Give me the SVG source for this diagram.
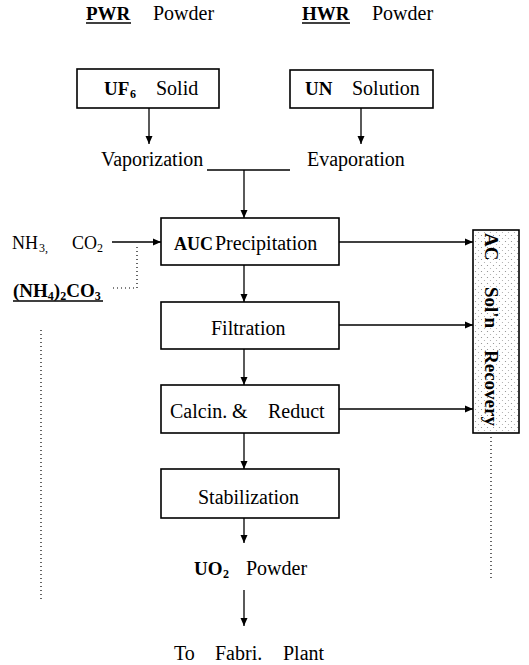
<svg xmlns="http://www.w3.org/2000/svg" width="529" height="665" viewBox="0 0 529 665">
<style>
text{fill:#000}
.box{fill:#fff;stroke:#000;stroke-width:1.6}
.ln{fill:none;stroke:#000;stroke-width:1.3}
.dot{fill:none;stroke:#000;stroke-width:1.2;stroke-dasharray:1 3}
.ul{stroke:#000;stroke-width:1.3}
</style>
<defs>
<marker id="ah" viewBox="0 0 8 8" refX="8" refY="4" markerWidth="8" markerHeight="8" markerUnits="userSpaceOnUse" orient="auto">
<path d="M0,0.5 L8,4 L0,7.5 Z" fill="#000"/>
</marker>
<pattern id="stip" width="6" height="6" patternUnits="userSpaceOnUse">
<rect width="6" height="6" fill="#fff"/>
<circle cx="1.5" cy="1.5" r="0.6" fill="#888"/>
<circle cx="4.5" cy="4.5" r="0.6" fill="#aaa"/>
</pattern>
</defs>

<g id="labels">
<text x="86" y="20" font-family="Liberation Serif" font-size="19" font-weight="bold">PWR</text>
<line class="ul" x1="86" y1="23" x2="131" y2="23"/>
<text x="153" y="20" font-family="Liberation Serif" font-size="20">Powder</text>
<text x="302" y="20" font-family="Liberation Serif" font-size="19" font-weight="bold">HWR</text>
<line class="ul" x1="302" y1="23" x2="350" y2="23"/>
<text x="372" y="20" font-family="Liberation Serif" font-size="20">Powder</text>
</g>

<g id="uf6">
<rect class="box" x="77" y="69" width="142" height="39"/>
<text x="104" y="95" font-family="Liberation Serif" font-size="19" font-weight="bold">UF</text>
<text x="130" y="98" font-family="Liberation Serif" font-size="12" font-weight="bold">6</text>
<text x="156" y="95" font-family="Liberation Serif" font-size="20">Solid</text>
</g>

<g id="un">
<rect class="box" x="290" y="70" width="143" height="38"/>
<text x="305" y="95" font-family="Liberation Serif" font-size="19" font-weight="bold">UN</text>
<text x="352" y="95" font-family="Liberation Serif" font-size="20">Solution</text>
</g>

<g id="vaporization"><text x="101" y="166" font-family="Liberation Serif" font-size="20">Vaporization</text></g>
<g id="evaporation"><text x="307" y="166" font-family="Liberation Serif" font-size="20">Evaporation</text></g>

<g id="nh3co2">
<text x="12" y="249" font-family="Liberation Serif" font-size="18">NH</text>
<text x="39" y="252" font-family="Liberation Serif" font-size="12">3,</text>
<text x="72" y="249" font-family="Liberation Serif" font-size="18">CO</text>
<text x="97" y="252" font-family="Liberation Serif" font-size="12">2</text>
</g>

<g id="nh4co3">
<text x="13" y="297" font-family="Liberation Serif" font-size="19" font-weight="bold">(NH<tspan font-size="12" dy="3">4</tspan><tspan dy="-3">)</tspan><tspan font-size="12" dy="3">2</tspan><tspan dy="-3">CO</tspan><tspan font-size="12" dy="3">3</tspan></text>
<line class="ul" x1="13" y1="301" x2="103" y2="301"/>
</g>

<g id="auc">
<rect class="box" x="161" y="218" width="178" height="47"/>
<text x="174" y="250" font-family="Liberation Serif" font-size="18" font-weight="bold">AUC</text>
<text x="215" y="250" font-family="Liberation Serif" font-size="20">Precipitation</text>
</g>

<g id="filtration">
<rect class="box" x="161" y="302" width="178" height="47"/>
<text x="211" y="335" font-family="Liberation Serif" font-size="20">Filtration</text>
</g>

<g id="calcin">
<rect class="box" x="161" y="385" width="178" height="48"/>
<text x="170" y="418" font-family="Liberation Serif" font-size="20">Calcin.</text>
<text x="232" y="418" font-family="Liberation Serif" font-size="20">&amp;</text>
<text x="268" y="418" font-family="Liberation Serif" font-size="20">Reduct</text>
</g>

<g id="stabilization">
<rect class="box" x="161" y="469" width="178" height="49"/>
<text x="198" y="504" font-family="Liberation Serif" font-size="20">Stabilization</text>
</g>

<g id="acrecovery">
<rect x="473" y="230" width="46" height="203" fill="url(#stip)" stroke="#000" stroke-width="1.6"/>
<text transform="translate(485,233) rotate(90)" font-family="Liberation Serif" font-size="19" font-weight="bold">AC</text>
<text transform="translate(485,287) rotate(90)" font-family="Liberation Serif" font-size="19" font-weight="bold">Sol'n</text>
<text transform="translate(485,350) rotate(90)" font-family="Liberation Serif" font-size="19" font-weight="bold">Recovery</text>
</g>

<g id="uo2">
<text x="194" y="575" font-family="Liberation Serif" font-size="19" font-weight="bold">UO</text>
<text x="223" y="578" font-family="Liberation Serif" font-size="12" font-weight="bold">2</text>
<text x="246" y="575" font-family="Liberation Serif" font-size="20">Powder</text>
</g>

<g id="fabri">
<text x="174" y="660" font-family="Liberation Serif" font-size="20">To</text>
<text x="215" y="660" font-family="Liberation Serif" font-size="20">Fabri.</text>
<text x="283" y="660" font-family="Liberation Serif" font-size="20">Plant</text>
</g>

<g id="connectors">
<line class="ln" x1="149" y1="108" x2="149" y2="144" marker-end="url(#ah)"/>
<line class="ln" x1="361" y1="108" x2="361" y2="144" marker-end="url(#ah)"/>
<line class="ln" x1="207" y1="170" x2="290" y2="170"/>
<line class="ln" x1="244" y1="170" x2="244" y2="218" marker-end="url(#ah)"/>
<line class="ln" x1="112" y1="242" x2="161" y2="242" marker-end="url(#ah)"/>
<polyline class="dot" points="137,247 137,288 110,288"/>
<line class="ln" x1="339" y1="242" x2="473" y2="242" marker-end="url(#ah)"/>
<line class="ln" x1="244" y1="265" x2="244" y2="302" marker-end="url(#ah)"/>
<line class="ln" x1="339" y1="325" x2="473" y2="325" marker-end="url(#ah)"/>
<line class="ln" x1="244" y1="349" x2="244" y2="385" marker-end="url(#ah)"/>
<line class="ln" x1="339" y1="409" x2="473" y2="409" marker-end="url(#ah)"/>
<line class="ln" x1="244" y1="433" x2="244" y2="469" marker-end="url(#ah)"/>
<line class="ln" x1="244" y1="518" x2="244" y2="543" marker-end="url(#ah)"/>
<line class="ln" x1="244" y1="590" x2="244" y2="626" marker-end="url(#ah)"/>
<line class="dot" x1="41" y1="330" x2="41" y2="602"/>
<line class="dot" x1="491" y1="437" x2="491" y2="580"/>
</g>
</svg>
